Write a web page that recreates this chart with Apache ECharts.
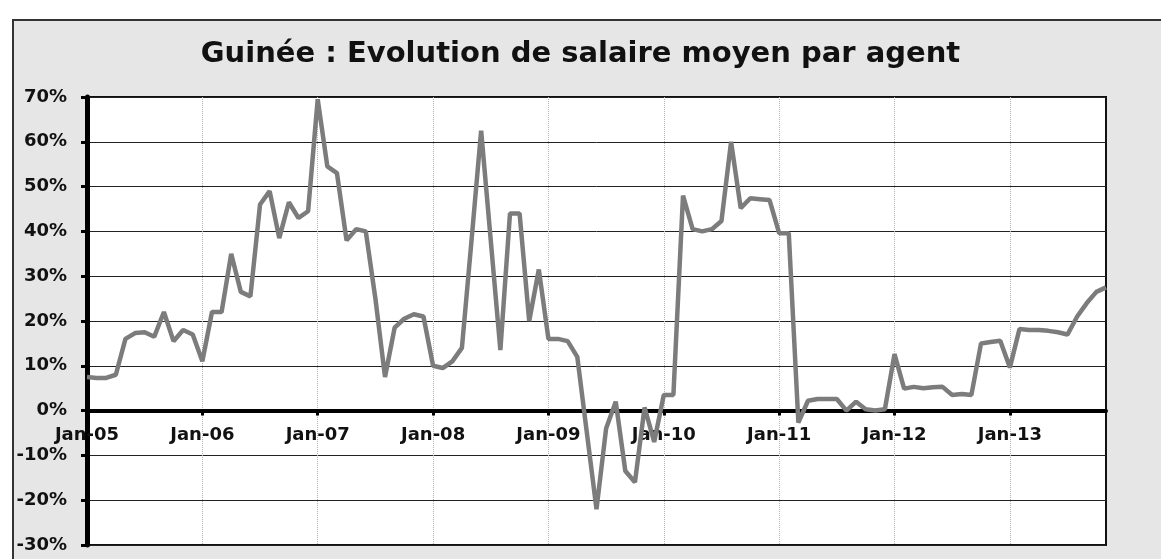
<!DOCTYPE html>
<html>
<head>
<meta charset="utf-8">
<title>Guinée : Evolution de salaire moyen par agent</title>
<script src="https://cdn.jsdelivr.net/npm/echarts@6/dist/echarts.min.js"></script>
<style>
  html, body { margin: 0; padding: 0; background: #fff; }
  #Chart1 { width: 1161px; height: 559px; }
</style>
</head>
<body>
<div id="Chart1"></div>
<script>
// monthly series, Jan-05 .. Nov-13 (values in %)
const years = ["05", "06", "07", "08", "09", "10", "11", "12", "13"];
const months = ["Jan", "Feb", "Mar", "Apr", "May", "Jun", "Jul", "Aug", "Sep", "Oct", "Nov", "Dec"];
const yTicks = [-30, -20, -10, 0, 10, 20, 30, 40, 50, 60, 70];

const salaireMoyen = [
  7.5, 7.3, 7.3, 8, 16, 17.3, 17.5, 16.5, 22, 15.5, 18, 17,          // 2005
  11, 22, 22, 35, 26.5, 25.5, 46, 49, 38.5, 46.5, 43, 44.5,          // 2006
  69.5, 54.5, 53, 38, 40.5, 40, 25, 7.5, 18.5, 20.5, 21.5, 21,       // 2007
  10, 9.5, 11, 14, 38, 62.5, 38, 13.5, 44, 44, 20, 31.5,             // 2008
  16, 16, 15.5, 12, -5, -22, -4, 2, -13.5, -16, 0.7, -7,             // 2009
  3.5, 3.5, 48, 40.5, 40, 40.5, 42.3, 60, 45.2, 47.4, 47.2, 47,      // 2010
  39.6, 39.6, -2.7, 2.2, 2.6, 2.6, 2.6, 0, 2, 0.3, 0, 0.3,           // 2011
  12.6, 4.9, 5.3, 5, 5.2, 5.3, 3.5, 3.7, 3.5, 15, 15.3, 15.6,        // 2012
  9.6, 18.2, 18, 18, 17.8, 17.5, 17, 21, 24, 26.5, 27.5              // 2013
];

const categories = [];
years.forEach(function (y) {
  months.forEach(function (m) { categories.push(m + "-" + y); });
});
categories.length = salaireMoyen.length;

const isJan = function (idx) { return idx % 12 === 0; };
const font = "DejaVu Sans";

// plot box
const gridTop = 97;
const gridBottom = 14;
const plotHeight = 559 - gridTop - gridBottom;
// lift the category axis up to the 0% line
const zeroOffset = -plotHeight * (0 - yTicks[0]) / (yTicks[yTicks.length - 1] - yTicks[0]);

const myChart = echarts.init(document.getElementById("Chart1"));

const option = {
  backgroundColor: "#fff",
  animation: false,
  title: {
    text: "Guinée : Evolution de salaire moyen par agent",
    left: "center",
    top: 35,
    textStyle: { fontFamily: font, fontWeight: "bold", fontSize: 29, color: "#111" }
  },
  graphic: [
    {
      type: "rect",
      z: -10,
      silent: true,
      shape: { x: 13, y: 20, width: 1200, height: 600 },
      style: { fill: "#e6e6e6", stroke: "#333", lineWidth: 2 }
    }
  ],
  grid: {
    left: 87,
    right: 55,
    top: gridTop,
    bottom: gridBottom,
    outerBoundsMode: "none",
    containLabel: false,
    show: true,
    backgroundColor: "#fff",
    borderColor: "#111",
    borderWidth: 2
  },
  xAxis: {
    type: "category",
    data: categories,
    boundaryGap: false,
    position: "bottom",
    offset: zeroOffset,
    axisLine: { onZero: false, lineStyle: { color: "#000", width: 4 } },
    axisTick: { show: true, interval: isJan, length: 5, lineStyle: { color: "#000", width: 3 } },
    axisLabel: {
      interval: isJan,
      margin: 16,
      fontFamily: font,
      fontWeight: "bold",
      fontSize: 18,
      color: "#111",
      showMinLabel: true
    },
    splitLine: {
      show: true,
      interval: isJan,
      lineStyle: { color: "#b0b0b0", width: 1, type: "dotted" }
    }
  },
  yAxis: {
    type: "value",
    min: yTicks[0],
    max: yTicks[yTicks.length - 1],
    interval: 10,
    axisLine: { show: true, lineStyle: { color: "#000", width: 5 } },
    axisTick: { show: true, length: 6, lineStyle: { color: "#000", width: 3 } },
    axisLabel: {
      formatter: "{value}%",
      margin: 20,
      fontFamily: font,
      fontWeight: "bold",
      fontSize: 18,
      color: "#111"
    },
    splitLine: { show: true, lineStyle: { color: "#222", width: 1 } }
  },
  series: [
    {
      name: "Salaire moyen par agent",
      type: "line",
      data: salaireMoyen,
      symbol: "none",
      lineStyle: { color: "#7c7c7c", width: 4.5 },
      itemStyle: { color: "#7c7c7c" }
    }
  ]
};

myChart.setOption(option);
</script>
</body>
</html>
